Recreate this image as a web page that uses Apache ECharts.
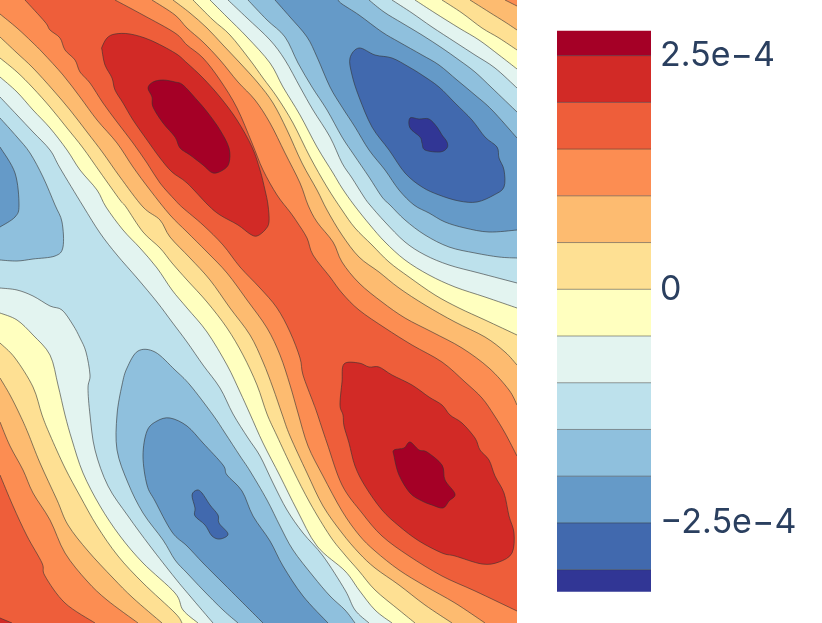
<!DOCTYPE html>
<html><head><meta charset="utf-8">
<script src="https://cdn.jsdelivr.net/npm/echarts@6/dist/echarts.min.js"></script>
<style>html,body{margin:0;padding:0;background:#fff}#c{width:822px;height:623px}</style></head>
<body><div id="c"></div>
<script>
// Colour of each contour band, lowest to highest
const bandColors=['#313695','#4169ae','#659ac8','#8fc0dd','#bde1ec','#e3f4f0','#ffffbf','#fee093','#fdbb70','#fc8d52','#ee5e3a','#d22a26','#a50026'];
// Colourbar band edges (field value)
const bandEdges=[-3.236e-4,-3e-4,-2.5e-4,-2e-4,-1.5e-4,-1e-4,-5e-5,0,5e-5,1e-4,1.5e-4,2e-4,2.5e-4,2.767e-4];
const tickValues=[-2.5e-4,0,2.5e-4];
const tickLabels=['\u22122.5e\u22124','0','2.5e\u22124'];
// Contours, in field coordinates (x 0..517, y 0..623)
const ne9=[[115,0],[143,15],[175,33],[187,45],[203,58],[220,80],[237,108],[252,143],[263,170],[277,195],[290,212],[297,222],[307,238],[313,255],[330,277],[342,293],[359,310],[385,328],[412,345],[442,362],[465,382],[482,398],[494,415],[505,433],[517,456]];
const ne8=[[152,0],[175,15],[187,28],[203,42],[220,60],[238,82],[255,100],[270,123],[285,153],[300,183],[308,205],[317,222],[333,242],[342,262],[359,283],[382,302],[405,318],[432,332],[462,348],[489,368],[509,390],[517,405]];
const ne8c=[[505,0],[517,6]];
const ne7=[[173,0],[190,13],[207,28],[223,45],[240,63],[258,83],[273,103],[287,130],[302,163],[317,190],[327,210],[342,235],[359,257],[379,272],[399,288],[425,305],[455,322],[485,337],[505,352],[517,365]];
const ne7c=[[470,0],[489,12],[505,22],[517,30]];
const ne6=[[193,0],[213,20],[230,35],[250,60],[263,78],[277,97],[293,123],[310,157],[327,187],[342,210],[355,228],[372,245],[389,262],[409,277],[435,295],[459,308],[485,320],[517,335]];
const ne6c=[[442,0],[462,13],[482,28],[499,38],[517,50]];
const ne5=[[210,0],[227,17],[247,37],[270,63],[283,87],[300,115],[317,147],[333,173],[342,188],[354,205],[370,225],[385,242],[405,260],[429,275],[455,287],[485,297],[517,308]];
const ne5c=[[415,0],[435,13],[459,28],[479,40],[499,55],[517,69]];
const ne4=[[228,0],[247,18],[270,40],[285,60],[300,87],[313,110],[330,137],[342,163],[352,178],[364,197],[370,205],[385,222],[405,242],[425,255],[449,265],[479,273],[517,283]];
const ne4c=[[392,0],[412,13],[432,27],[455,42],[475,55],[495,68],[517,88]];
const ne3=[[248,0],[267,20],[285,37],[298,63],[312,87],[327,110],[342,137],[354,155],[369,177],[382,197],[390,205],[405,220],[425,235],[449,247],[475,253],[499,257],[517,258]];
const ne3c=[[369,0],[384,12],[402,23],[422,35],[442,48],[459,60],[475,72],[492,88],[517,112]];
const ne2=[[275,0],[290,17],[307,37],[317,57],[330,87],[342,107],[355,127],[369,150],[385,170],[399,190],[414,205],[429,213],[445,222],[465,228],[489,232],[517,230]];
const ne2c=[[338,0],[342,4],[359,15],[382,32],[399,42],[422,55],[439,65],[457,80],[475,95],[492,110],[517,138]];
const ne1=[[350,58],[359,48],[375,55],[392,58],[409,67],[422,75],[439,87],[455,103],[472,120],[485,137],[497,147],[499,158],[504,170],[504,187],[494,195],[477,202],[459,201],[439,195],[422,187],[405,173],[389,150],[372,127],[359,97],[352,75]];
const ne0=[[410,118],[419,119],[429,119],[437,127],[442,135],[447,142],[447,148],[440,152],[425,150],[422,143],[420,137],[410,128]];
const sw9=[[25,0],[45,22],[50,30],[60,38],[65,50],[75,60],[80,72],[90,83],[103,103],[117,122],[133,143],[147,163],[160,183],[175,200],[183,208],[203,225],[223,245],[240,267],[260,288],[277,308],[290,332],[300,358],[303,375],[313,402],[317,413],[327,443],[342,485],[362,513],[382,536],[409,556],[442,576],[475,591],[517,611]];
const sw9b=[[0,475],[13,506],[27,536],[42,563],[45,576],[65,603],[95,623]];
const sw8=[[0,14],[17,28],[32,42],[43,53],[63,75],[80,97],[97,120],[117,143],[133,167],[150,190],[170,215],[187,232],[207,252],[227,273],[247,300],[267,328],[280,355],[290,385],[298,413],[308,446],[323,476],[342,511],[359,535],[375,551],[399,570],[425,586],[455,603],[485,623]];
const sw8b=[[0,422],[10,446],[23,470],[33,493],[50,520],[65,553],[87,581],[107,600],[138,623]];
const sw7=[[0,37],[17,53],[33,68],[53,90],[70,110],[87,132],[103,153],[120,177],[143,207],[160,220],[170,237],[190,258],[210,280],[230,308],[250,335],[263,362],[273,388],[282,414],[290,436],[307,473],[323,506],[342,533],[359,553],[375,568],[399,585],[425,605],[452,623]];
const sw7b=[[0,378],[10,395],[20,415],[28,433],[40,463],[57,500],[68,525],[88,551],[113,578],[133,598],[162,623]];
const sw6=[[0,58],[17,72],[33,88],[50,107],[67,128],[83,148],[100,172],[120,200],[126,207],[143,232],[160,248],[172,263],[187,280],[207,302],[227,328],[243,355],[257,385],[267,414],[277,436],[293,470],[310,503],[330,536],[345,555],[359,571],[375,590],[399,610],[415,623]];
const sw6b=[[0,343],[15,358],[33,387],[42,415],[50,435],[65,468],[80,496],[97,526],[118,556],[143,583],[175,613],[182,623]];
const sw5=[[0,77],[17,92],[33,110],[50,128],[67,150],[80,170],[97,190],[106,207],[123,230],[140,248],[157,268],[172,290],[187,308],[207,332],[227,365],[240,392],[250,414],[263,443],[280,476],[297,510],[317,546],[345,571],[359,590],[375,610],[392,623]];
const sw5b=[[0,313],[17,320],[33,335],[50,355],[58,385],[65,415],[72,440],[83,473],[100,506],[120,536],[143,563],[175,593],[183,610],[198,623]];
const sw4=[[0,97],[17,115],[33,132],[50,150],[60,168],[83,206],[100,233],[117,255],[137,278],[157,302],[172,322],[187,342],[203,365],[220,388],[233,414],[248,438],[260,456],[273,483],[287,510],[303,533],[323,556],[345,590],[355,610],[369,623]];
const sw4b=[[0,288],[17,290],[33,296],[50,306],[62,310],[73,325],[80,338],[86,352],[90,375],[88,388],[90,415],[95,450],[108,486],[128,516],[150,546],[175,578],[190,596],[213,623]];
const west3=[[0,118],[17,137],[30,153],[43,177],[55,205],[62,222],[63,247],[55,256],[33,259],[17,261],[0,260]];
const west2=[[0,147],[15,173],[19,205],[15,217],[0,227]];
const south3=[[238,623],[223,610],[203,590],[187,573],[175,560],[163,540],[143,513],[128,483],[117,450],[117,415],[122,385],[127,368],[138,351],[155,352],[175,370],[190,385],[213,415],[225,433],[240,456],[250,471],[267,500],[280,526],[293,550],[313,576],[330,596],[345,610],[355,623]];
const south2=[[263,623],[240,600],[223,583],[203,563],[187,546],[172,532],[155,501],[147,485],[143,456],[147,431],[157,421],[170,418],[187,426],[203,443],[223,465],[227,475],[242,491],[253,516],[270,541],[283,566],[303,596],[328,623]];
const south1=[[192,495],[197,490],[202,493],[210,505],[218,515],[219,523],[228,534],[220,539],[212,536],[205,525],[195,516],[195,508]];
const nw11=[[102,47],[107,38],[115,34],[130,34],[150,40],[175,53],[187,63],[203,78],[220,97],[237,120],[252,147],[260,170],[265,190],[268,205],[269,222],[265,230],[257,236],[250,234],[238,225],[220,215],[208,205],[187,183],[172,172],[160,158],[147,140],[133,120],[123,103],[115,90],[112,78],[105,65],[102,50]];
const nw12=[[148,88],[153,82],[163,80],[175,82],[183,85],[197,100],[208,113],[220,130],[229,148],[229,163],[223,170],[213,173],[203,165],[190,155],[180,148],[175,137],[163,123],[153,107],[152,97]];
const se11=[[344,364],[359,363],[369,367],[379,367],[392,375],[412,385],[429,397],[442,405],[450,415],[462,423],[475,438],[480,450],[489,460],[495,476],[504,493],[509,516],[514,533],[512,553],[499,562],[482,564],[455,556],[442,553],[419,541],[399,526],[382,510],[365,486],[355,466],[349,443],[344,426],[343,415],[340,405],[342,382]];
const se12=[[394,450],[404,448],[410,442],[419,450],[427,452],[442,465],[445,480],[455,494],[449,501],[443,508],[432,505],[422,501],[410,493],[399,475],[394,456]];
const corner11=[[0,618],[12,623]];

const W=517,H=623;
// region: [band, pieces joined into one filled outline, closed loop?]; a piece of one point is a frame corner
const F=1,R=-1; // traverse a contour forwards / backwards
const regions=[
 {band:10,pieces:[[[0,0]],[[W,0]],[[W,H]],[[0,H]]],strokes:[]},
 {band:9,pieces:[ne9,[[W,0]]],strokes:[ne9]},
 {band:8,pieces:[ne8,ne8c.slice().reverse()],strokes:[ne8,ne8c]},
 {band:7,pieces:[ne7,ne7c.slice().reverse()],strokes:[ne7,ne7c]},
 {band:6,pieces:[ne6,ne6c.slice().reverse()],strokes:[ne6,ne6c]},
 {band:5,pieces:[ne5,ne5c.slice().reverse()],strokes:[ne5,ne5c]},
 {band:4,pieces:[ne4,ne4c.slice().reverse()],strokes:[ne4,ne4c]},
 {band:3,pieces:[ne3,ne3c.slice().reverse()],strokes:[ne3,ne3c]},
 {band:2,pieces:[ne2,ne2c.slice().reverse()],strokes:[ne2,ne2c]},
 {band:1,loop:ne1},{band:0,loop:ne0},
 {band:9,pieces:[sw9,[[W,H]],sw9b.slice().reverse(),[[0,0]]],strokes:[sw9,sw9b]},
 {band:8,pieces:[sw8,sw8b.slice().reverse()],strokes:[sw8,sw8b]},
 {band:7,pieces:[sw7,sw7b.slice().reverse()],strokes:[sw7,sw7b]},
 {band:6,pieces:[sw6,sw6b.slice().reverse()],strokes:[sw6,sw6b]},
 {band:5,pieces:[sw5,sw5b.slice().reverse()],strokes:[sw5,sw5b]},
 {band:4,pieces:[sw4,sw4b.slice().reverse()],strokes:[sw4,sw4b]},
 {band:3,pieces:[west3],strokes:[west3]},
 {band:2,pieces:[west2],strokes:[west2]},
 {band:3,pieces:[south3],strokes:[south3]},
 {band:2,pieces:[south2],strokes:[south2]},
 {band:1,loop:south1},
 {band:11,loop:nw11},{band:12,loop:nw12},{band:11,loop:se11},{band:12,loop:se12},
 {band:11,pieces:[corner11,[[0,H]]],strokes:[corner11]}
];
// Bezier path through screen points (open curve, or closed loop)
function curve(pts,closed,first){
  const n=pts.length,at=i=>closed?pts[(i+n)%n]:pts[Math.max(0,Math.min(n-1,i))];
  let d=(first?'M':'L')+pts[0][0]+' '+pts[0][1];
  const k=closed?n:n-1;
  for(let i=0;i<k;i++){
    const p0=at(i-1),p1=at(i),p2=at(i+1),p3=at(i+2);
    d+=' C'+(p1[0]+(p2[0]-p0[0])/6)+' '+(p1[1]+(p2[1]-p0[1])/6)+' '+(p2[0]-(p3[0]-p1[0])/6)+' '+(p2[1]-(p3[1]-p1[1])/6)+' '+p2[0]+' '+p2[1];
  }
  return d;
}
const lineStyle={stroke:'rgba(50,50,50,0.85)',lineWidth:0.7,fill:null,lineJoin:'round'};
const chart=echarts.init(document.getElementById('c'),null,{renderer:'canvas'});
chart.setOption({
 animation:false,
 backgroundColor:'#fff',
 grid:[{left:0,top:0,width:W,height:H},{left:557,top:30.7,width:94,height:561}],
 xAxis:[
  {gridIndex:0,type:'value',min:0,max:W,show:false},
  {gridIndex:1,type:'value',min:0,max:1,show:false}
 ],
 yAxis:[
  {gridIndex:0,type:'value',min:0,max:H,inverse:true,show:false},
  {gridIndex:1,type:'value',min:bandEdges[0],max:bandEdges[bandEdges.length-1],position:'right',
   axisLine:{show:false},axisTick:{show:false},splitLine:{show:false},
   axisLabel:{show:true,customValues:tickValues,margin:9,color:'#2a3f5f',fontFamily:'Inter',fontSize:34,
    formatter:v=>{let i=tickValues.findIndex(t=>Math.abs(t-v)<1e-9);return i<0?'':tickLabels[i];}}}
 ],
 series:[
  {type:'custom',xAxisIndex:0,yAxisIndex:0,silent:true,clip:true,
   data:regions.map((r,i)=>[i]),
   renderItem:(p,api)=>{
     const r=regions[p.dataIndex];
     const map=a=>a.map(q=>api.coord(q));
     let fill,children=[];
     if(r.loop){
       fill=curve(map(r.loop),true,true)+' Z';
     }else{
       fill=r.pieces.map((a,i)=>curve(map(a),false,i===0)).join(' ')+' Z';
     }
     children.push({type:'path',shape:{pathData:fill},style:{fill:bandColors[r.band],stroke:null}});
     if(r.loop)children.push({type:'path',shape:{pathData:fill},style:lineStyle});
     else r.strokes.forEach(l=>children.push({type:'path',shape:{pathData:curve(map(l),false,true)},style:lineStyle}));
     return {type:'group',children};
   }},
  {type:'custom',xAxisIndex:1,yAxisIndex:1,silent:true,
   data:bandColors.map((c,i)=>[i]),
   renderItem:(p,api)=>{
     const i=p.dataIndex;
     const a=api.coord([0,bandEdges[i+1]]),b=api.coord([1,bandEdges[i]]);
     const children=[{type:'rect',shape:{x:a[0],y:a[1],width:b[0]-a[0],height:b[1]-a[1]},style:{fill:bandColors[i],stroke:null}}];
     if(i>0)children.push({type:'line',shape:{x1:a[0],y1:b[1],x2:b[0],y2:b[1]},style:{stroke:'rgba(50,50,50,0.7)',lineWidth:0.7}});
     return {type:'group',children};
   }}
 ]
});
</script></body></html>
